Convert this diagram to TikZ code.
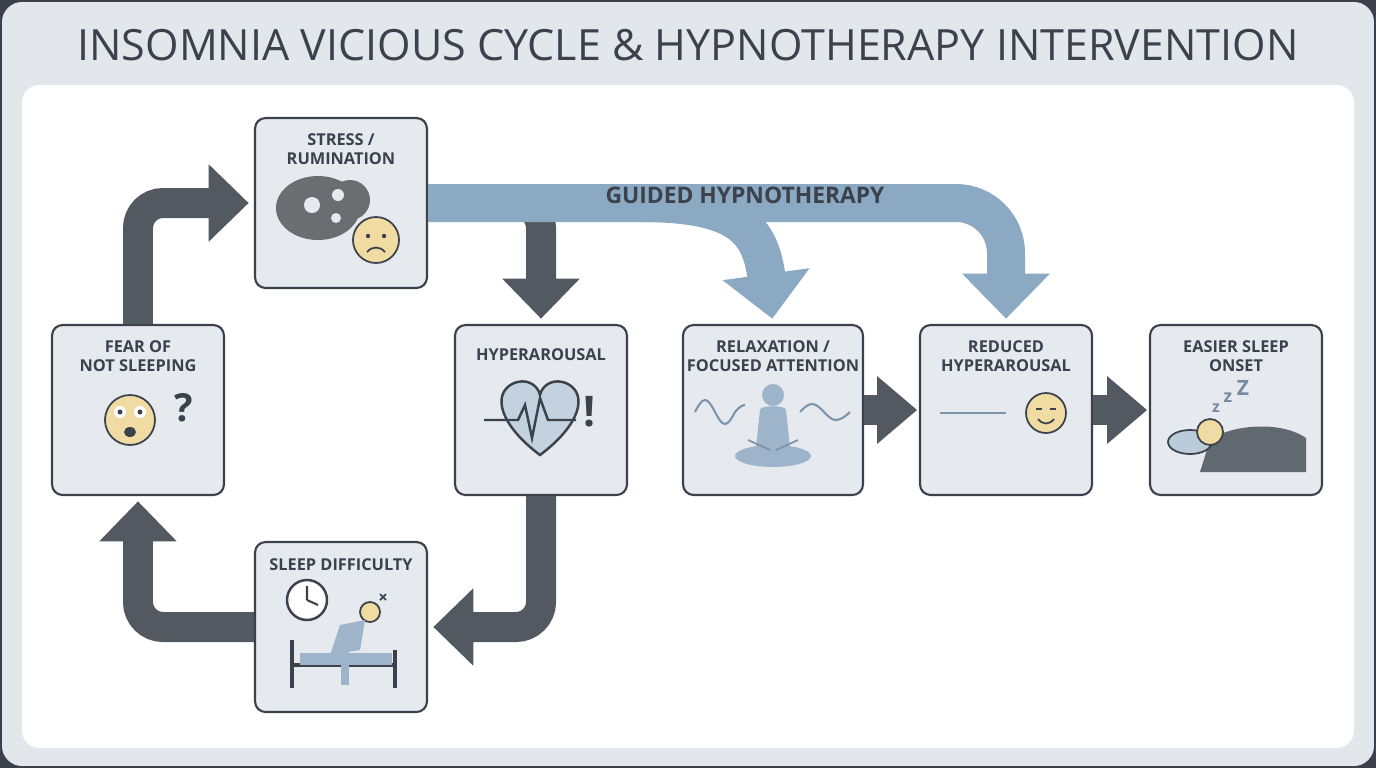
\documentclass[tikz,border=0pt]{standalone}
\usepackage{fontspec}
\setmainfont{Open Sans}
\usetikzlibrary{arrows.meta,positioning}
\definecolor{frame}{HTML}{E3E7EB}
\definecolor{boxfill}{HTML}{E6EAEE}
\definecolor{ink}{HTML}{3B424B}
\definecolor{cyc}{HTML}{525960}
\definecolor{hyp}{HTML}{8CA9C4}
\definecolor{face}{HTML}{F0DBA2}
\definecolor{body}{HTML}{9DB4CA}
\tikzset{
  box/.style={draw=ink, line width=1.2pt, fill=boxfill, rounded corners=6pt, minimum width=3.44cm, minimum height=3.4cm},
  lbl/.style={font=\fontsize{9.3}{11}\selectfont\bfseries, text=ink, align=center},
  cyc/.style={draw=cyc, line width=0.6cm, rounded corners=0.5cm, -{Triangle[length=0.8cm,width=1.5cm]}, shorten >=3pt},
  hyp/.style={draw=hyp, line width=0.76cm, rounded corners=1cm, -{Triangle[length=0.9cm,width=1.7cm]}, shorten >=3pt},
  emoji/.style={draw=ink, line width=1pt, fill=face}
}
\begin{document}
\begin{tikzpicture}[x=0.02cm, y=-0.02cm]
\useasboundingbox (0,0) rectangle (1376,768);
% background and title
\fill[ink] (0,0) rectangle (1376,768);
\filldraw[fill=frame, draw=ink, line width=1pt, rounded corners=12pt] (1,1) rectangle (1375,767);
\node[font=\fontsize{24.5}{28}\selectfont, text=ink] (title) at (688,45) {INSOMNIA VICIOUS CYCLE \& HYPNOTHERAPY INTERVENTION};
\fill[white, rounded corners=10pt] (22,85) rectangle (1354,748);

% boxes
\node[box] (stress) at (341,203) {};
\node[box] (fear) at (138,410) {};
\node[box] (hyper) at (541,410) {};
\node[box] (sleep) at (341,627) {};
\node[box, minimum width=3.6cm] (relax) at (773,410) {};
\node[box] (reduced) at (1006,410) {};
\node[box] (onset) at (1236,410) {};

\node[lbl] (stresslbl) at (341,149) {STRESS /\\RUMINATION};
\node[lbl] (fearlbl) at (138,356) {FEAR OF\\NOT SLEEPING};
\node[lbl] (hyperlbl) at (541,355) {HYPERAROUSAL};
\node[lbl] (sleeplbl) at (341,565) {SLEEP DIFFICULTY};
\node[lbl] (relaxlbl) at (773,356) {RELAXATION /\\FOCUSED ATTENTION};
\node[lbl] (reducedlbl) at (1006,356) {REDUCED\\HYPERAROUSAL};
\node[lbl] (onsetlbl) at (1236,356) {EASIER SLEEP\\ONSET};

% vicious cycle
\draw[cyc] (fear.north) |- (stress.west);
\draw[cyc] (stress.east) -| (hyper.north);
\draw[cyc] (hyper.south) |- (sleep.east);
\draw[cyc] (sleep.west) -| (fear.south);

% hypnotherapy
\coordinate (split) at (640,203);
\draw[hyp] (stress.east) -| (reduced.north);
\draw[hyp] (split) .. controls (740,203) and (760,230) .. (relax.north);
\node[font=\fontsize{13}{15}\selectfont\bfseries, text=ink] (guided) at (745,195) {GUIDED HYPNOTHERAPY};

\draw[cyc, shorten >=1pt, -{Triangle[length=0.8cm,width=1.3cm]}] (relax.east) -- (reduced.west);
\draw[cyc, shorten >=1pt, -{Triangle[length=0.8cm,width=1.3cm]}] (reduced.east) -- (onset.west);

% icons: stress
\fill[gray!70!ink] (318,208) ellipse (42 and 32);
\fill[gray!70!ink] (350,200) circle (20);
\fill[boxfill] (312,205) circle (8);
\fill[boxfill] (338,195) circle (6);
\fill[boxfill] (336,218) circle (5);
\draw[emoji] (376,240) circle (23);
\fill[ink] (368,236) circle (2.2) (384,236) circle (2.2);
\draw[ink, line width=1pt] (367,252) .. controls (372,246) and (380,246) .. (385,252);
% icons: fear
\draw[emoji] (130,420) circle (25);
\fill[white] (120,412) circle (6) (140,412) circle (6);
\fill[ink] (120,412) circle (2.5) (140,412) circle (2.5);
\fill[ink] (130,432) ellipse (6 and 5);
\node[font=\fontsize{22}{24}\selectfont\bfseries, text=ink] (qmark) at (184,408) {?};
% icons: hyperarousal
\draw[ink, line width=1.4pt, fill=body!60] (540,455) .. controls (500,425) and (492,395) .. (512,384) .. controls (526,377) and (538,385) .. (540,395) .. controls (542,385) and (554,377) .. (568,384) .. controls (588,395) and (580,425) .. (540,455) -- cycle;
\draw[ink, line width=1.4pt] (484,420) -- (518,420) -- (525,405) -- (532,438) -- (540,398) -- (548,420) -- (576,420);
\node[font=\fontsize{24}{26}\selectfont\bfseries, text=ink] (excl) at (590,412) {!};
% icons: relaxation
\draw[hyp!80!ink, line width=1.2pt] (695,412) sin (705,400) cos (715,412) sin (725,424) cos (735,412) sin (745,405);
\draw[hyp!80!ink, line width=1.2pt] (800,412) sin (812,404) cos (824,412) sin (836,420) cos (850,412);
\fill[body] (773,395) circle (11);
\fill[body] (760,410) .. controls (760,405) and (786,405) .. (786,410) -- (790,448) -- (756,448) -- cycle;
\fill[body] (773,456) ellipse (38 and 11);
\draw[body!70!ink, line width=1pt] (748,440) -- (770,450) (798,440) -- (776,450);
% icons: reduced
\draw[hyp!80!ink, line width=1.4pt] (940,413) -- (1006,413);
\draw[emoji] (1046,413) circle (20);
\draw[ink, line width=1pt] (1036,409) -- (1042,409) (1050,409) -- (1056,409);
\draw[ink, line width=1pt] (1038,419) .. controls (1043,425) and (1049,425) .. (1054,419);
% icons: sleep onset
\fill[ink!80] (1200,472) -- (1306,472) -- (1306,438) .. controls (1280,420) and (1230,425) .. (1210,440) -- cycle;
\filldraw[fill=body!70, draw=ink, line width=1pt] (1190,442) ellipse (22 and 12);
\draw[emoji] (1210,432) circle (13);
\node[font=\bfseries\small, text=hyp!70!ink] (z1) at (1216,408) {z};
\node[font=\bfseries\normalsize, text=hyp!70!ink] (z2) at (1228,398) {z};
\node[font=\bfseries\large, text=hyp!70!ink] (z3) at (1243,388) {Z};
% icons: sleep difficulty
\draw[ink, line width=1.4pt, fill=white] (307,600) circle (20);
\draw[ink, line width=1.2pt] (307,600) -- (307,586) (307,600) -- (318,605);
\draw[ink, line width=2pt] (292,688) -- (292,640) (292,665) -- (395,665) (395,688) -- (395,650);
\fill[body] (300,653) rectangle (392,665);
\draw[emoji] (370,612) circle (10);
\fill[body] (340,625) -- (365,620) -- (360,650) -- (330,655) -- cycle;
\draw[body, line width=4pt] (345,650) -- (345,685);
\draw[ink, line width=1pt] (380,594) -- (386,600) (386,594) -- (380,600);
\end{tikzpicture}
\end{document}
